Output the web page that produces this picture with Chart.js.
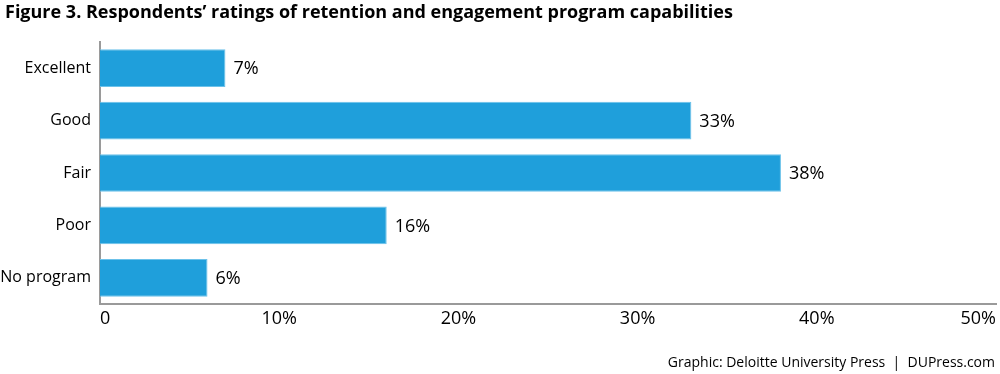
<!DOCTYPE html>
<html>
<head>
<meta charset="utf-8">
<script src="https://cdn.jsdelivr.net/npm/chart.js@4/dist/chart.umd.min.js"></script>
<style>
html,body{margin:0;padding:0;background:#fff;}
#wrap{width:1000px;height:374px;position:relative;}
</style>
</head>
<body>
<div id="wrap"><canvas id="c" width="1000" height="374"></canvas></div>
<script>
const categories = ["Excellent", "Good", "Fair", "Poor", "No program"];
const values = [7, 33, 38, 16, 6];
const xTicks = [0, 10, 20, 30, 40, 50];
const titleText = "Figure 3. Respondents\u2019 ratings of retention and engagement program capabilities";
const footerText = "Graphic: Deloitte University Press  |  DUPress.com";

const FONT = "'Open Sans', 'Noto Sans', sans-serif";

const textPlugin = {
  id: 'texts',
  afterDraw(chart) {
    const ctx = chart.ctx;
    ctx.save();
    ctx.fillStyle = '#000';
    ctx.textBaseline = 'middle';
    ctx.textAlign = 'left';
    ctx.font = "bold 18px " + FONT;
    ctx.fillText(titleText, 5, 13);
    ctx.font = "14px " + FONT;
    ctx.textAlign = 'right';
    ctx.fillText(footerText, 995, 363);
    const meta = chart.getDatasetMeta(0);
    ctx.font = "18px " + FONT;
    ctx.textAlign = 'left';
    meta.data.forEach((bar, i) => {
      ctx.fillText(values[i] + '%', bar.x + 8, bar.y + 1);
    });
    ctx.restore();
  }
};

new Chart(document.getElementById('c'), {
  type: 'bar',
  data: {
    labels: categories,
    datasets: [{
      data: values,
      backgroundColor: '#1f9fdb',
      borderColor: '#6cc2ea',
      borderWidth: 1,
      borderSkipped: 'left',
      barPercentage: 0.72,
      categoryPercentage: 1.0
    }]
  },
  options: {
    indexAxis: 'y',
    responsive: false,
    animation: false,
    devicePixelRatio: 1,
    layout: { padding: { top: 42, bottom: 39, left: 0, right: 2 } },
    plugins: { legend: { display: false }, tooltip: { enabled: false } },
    scales: {
      x: {
        min: 0, max: 50,
        afterBuildTicks(scale) { scale.ticks = xTicks.map(v => ({ value: v })); },
        afterFit(scale) { scale.height = 31; },
        grid: { display: false, drawTicks: false },
        border: { display: true, color: '#9a9a9a', width: 2 },
        ticks: {
          align: 'inner',
          padding: 4,
          color: '#000',
          font: { family: FONT, size: 18 },
          callback: v => v === 0 ? '0' : v + '%'
        }
      },
      y: {
        afterFit(scale) { scale.width = 100; },
        grid: { display: false, drawTicks: false },
        border: { display: true, color: '#9a9a9a', width: 2 },
        ticks: {
          padding: 9,
          color: '#000',
          font: { family: FONT, size: 16 }
        }
      }
    }
  },
  plugins: [textPlugin]
});
</script>
</body>
</html>
